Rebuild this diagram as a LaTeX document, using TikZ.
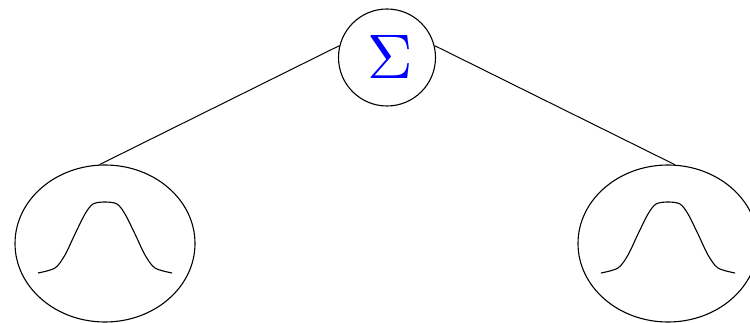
\documentclass[tikz,border=0pt]{standalone}
\usepackage{graphicx}
\tikzset{
  conn/.style={line width=1pt, black},
  sumnode/.style={circle, draw, line width=1.1pt, minimum size=97pt, inner sep=0pt},
  gaussnode/.style={ellipse, draw, line width=1.1pt, minimum width=180pt, minimum height=157pt, inner sep=0pt},
  bell/.style={line width=1.1pt},
}
\usetikzlibrary{shapes.geometric}
\begin{document}
\begin{tikzpicture}[x=1pt,y=-1pt]
\useasboundingbox (0,0) rectangle (750,323);
\begin{scope}
\clip (0,0) rectangle (750,323);
\node[sumnode] (S) at (387,57.5) {};
\node[text=blue, inner sep=0pt] (sig) at (390,56.5) {\scalebox{6.3}{$\Sigma$}};
\node[gaussnode] (L) at (105,243.5) {};
\node[gaussnode] (R) at (668,243.5) {};
\foreach \c in {105,668}{
  \draw[bell] plot[smooth, tension=0.5] coordinates {
    (\c-67,273) (\c-50,268) (\c-40,255) (\c-30,234) (\c-20,214) (\c-12,204) (\c,202)
    (\c+12,204) (\c+20,214) (\c+30,234) (\c+40,255) (\c+50,268) (\c+67,273)};
}
\draw[conn] (L.94) -- (S.166);
\draw[conn] (S.14) -- (R.85);
\end{scope}
\end{tikzpicture}
\end{document}
